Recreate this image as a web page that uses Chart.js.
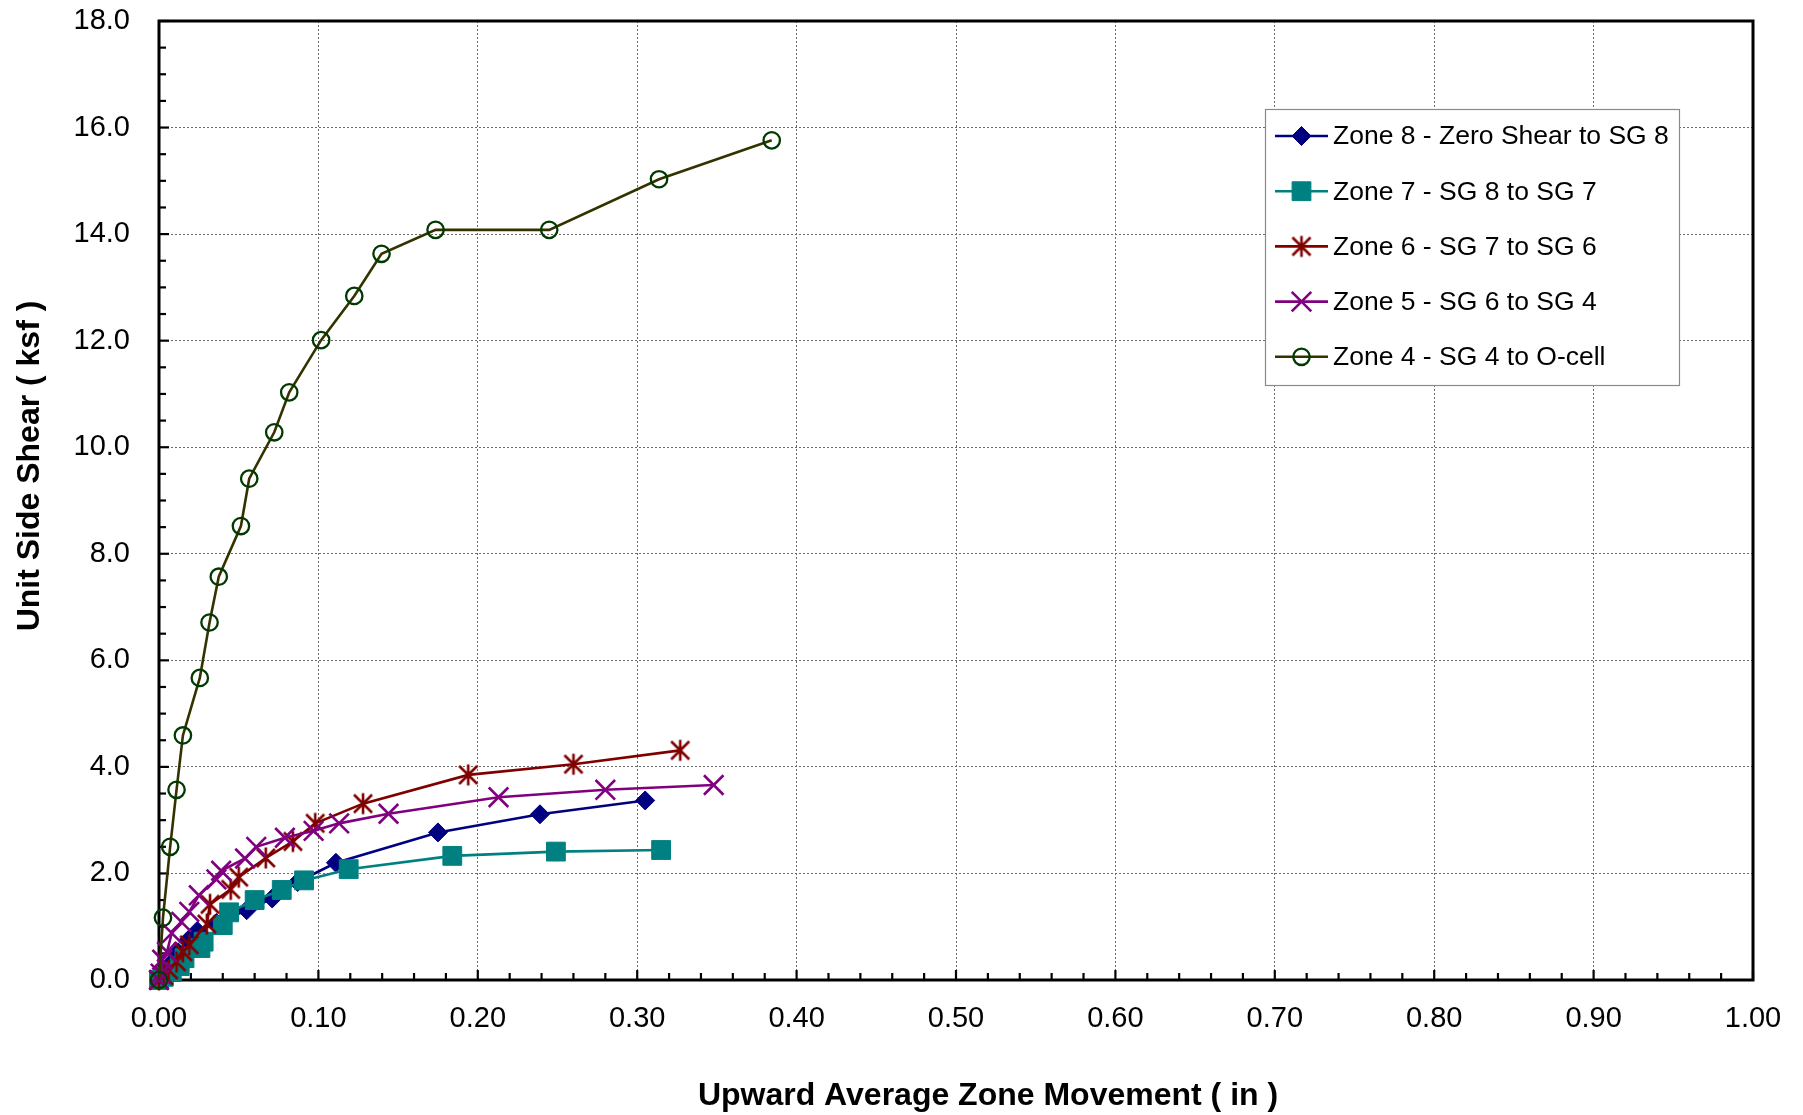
<!DOCTYPE html>
<html>
<head>
<meta charset="utf-8">
<title>Unit Side Shear vs Upward Average Zone Movement</title>
<script src="https://cdn.jsdelivr.net/npm/chart.js@4/dist/chart.umd.min.js"></script>
<style>
  html, body { margin: 0; padding: 0; background: #ffffff; }
  canvas { display: block; }
</style>
</head>
<body>
<canvas id="chart" width="1803" height="1115"></canvas>
<script>
const FONT = "'Liberation Sans', Arial, Helvetica, sans-serif";

// Series names (legend order)
const seriesNames = [
  'Zone 8 - Zero Shear to SG 8',
  'Zone 7 - SG 8 to SG 7',
  'Zone 6 - SG 7 to SG 6',
  'Zone 5 - SG 6 to SG 4',
  'Zone 4 - SG 4 to O-cell'
];

// Upward average zone movement (in) and unit side shear (ksf) per zone
const zone8X = [0, 0.003, 0.007, 0.012, 0.018, 0.024, 0.036, 0.055, 0.071, 0.087, 0.111, 0.175, 0.239, 0.305];
const zone8Y = [0, 0.12, 0.30, 0.52, 0.74, 0.92, 1.07, 1.31, 1.53, 1.84, 2.20, 2.77, 3.11, 3.37];

const zone7X = [0, 0.003, 0.008, 0.013, 0.016, 0.026, 0.028, 0.040, 0.044, 0.060, 0.077, 0.091, 0.119, 0.184, 0.249, 0.315];
const zone7Y = [0, 0.06, 0.15, 0.26, 0.41, 0.60, 0.72, 1.03, 1.27, 1.50, 1.69, 1.87, 2.08, 2.33, 2.41, 2.44];

const zone6X = [0, 0.003, 0.006, 0.011, 0.015, 0.019, 0.030, 0.032, 0.045, 0.050, 0.067, 0.084, 0.098, 0.128, 0.194, 0.260, 0.327];
const zone6Y = [0, 0.08, 0.19, 0.34, 0.53, 0.66, 1.05, 1.42, 1.70, 1.93, 2.29, 2.60, 2.94, 3.31, 3.85, 4.05, 4.31];

const zone5X = [0, 0.001, 0.002, 0.005, 0.008, 0.014, 0.019, 0.025, 0.036, 0.039, 0.054, 0.061, 0.079, 0.097, 0.113, 0.144, 0.213, 0.280, 0.348];
const zone5Y = [0, 0.12, 0.38, 0.53, 0.88, 1.09, 1.28, 1.59, 1.89, 2.05, 2.28, 2.50, 2.67, 2.80, 2.94, 3.12, 3.43, 3.57, 3.66];

const zone4X = [0, 0.0025, 0.007, 0.011, 0.015, 0.0256, 0.0317, 0.0375, 0.0514, 0.0566, 0.0723, 0.0817, 0.1017, 0.1225, 0.1396, 0.1735, 0.2448, 0.3137, 0.3844];
const zone4Y = [0, 1.17, 2.50, 3.57, 4.59, 5.67, 6.71, 7.57, 8.52, 9.41, 10.28, 11.03, 12.01, 12.84, 13.63, 14.08, 14.08, 15.03, 15.76];

// Axis tick labels
const xTickLabels = ['0.00', '0.10', '0.20', '0.30', '0.40', '0.50', '0.60', '0.70', '0.80', '0.90', '1.00'];
const yTickLabels = ['0.0', '2.0', '4.0', '6.0', '8.0', '10.0', '12.0', '14.0', '16.0', '18.0'];

const xTitle = 'Upward Average Zone Movement ( in )';
const yTitle = 'Unit Side Shear ( ksf )';

function toPoints(xs, ys) {
  return xs.map((x, i) => ({ x: x, y: ys[i] }));
}

// Six-spoke asterisk marker (vertical bar plus an X)
function asteriskMarker(color, r, lw) {
  const size = Math.ceil(2 * r + lw + 2);
  const c = document.createElement('canvas');
  c.width = size; c.height = size;
  const g = c.getContext('2d');
  const m = size / 2;
  const d = r * 0.86;
  g.strokeStyle = color;
  g.lineWidth = lw;
  g.lineCap = 'butt';
  g.beginPath();
  g.moveTo(m, m - r); g.lineTo(m, m + r);
  g.moveTo(m - d, m - d); g.lineTo(m + d, m + d);
  g.moveTo(m - d, m + d); g.lineTo(m + d, m - d);
  g.stroke();
  return c;
}

const starMarker = asteriskMarker('#800000', 10.5, 2.6);

const datasets = [
  {
    label: seriesNames[0],
    data: toPoints(zone8X, zone8Y),
    borderColor: '#000080', backgroundColor: '#000080',
    pointStyle: 'rectRot', pointRadius: 9.5,
    pointBackgroundColor: '#000080', pointBorderColor: '#000080', pointBorderWidth: 1,
    order: 5
  },
  {
    label: seriesNames[1],
    data: toPoints(zone7X, zone7Y),
    borderColor: '#008080', backgroundColor: '#008080',
    pointStyle: 'rect', pointRadius: 13.3,
    pointBackgroundColor: '#008080', pointBorderColor: '#008080', pointBorderWidth: 1,
    order: 4
  },
  {
    label: seriesNames[2],
    data: toPoints(zone6X, zone6Y),
    borderColor: '#800000', backgroundColor: '#800000',
    pointStyle: starMarker, pointRadius: 11,
    pointBackgroundColor: '#800000', pointBorderColor: '#800000', pointBorderWidth: 2.6,
    order: 3
  },
  {
    label: seriesNames[3],
    data: toPoints(zone5X, zone5Y),
    borderColor: '#800080', backgroundColor: '#800080',
    pointStyle: 'crossRot', pointRadius: 13.8,
    pointBackgroundColor: '#800080', pointBorderColor: '#800080', pointBorderWidth: 2.6,
    order: 2
  },
  {
    label: seriesNames[4],
    data: toPoints(zone4X, zone4Y),
    borderColor: '#333300', backgroundColor: 'rgba(0,0,0,0)',
    pointStyle: 'circle', pointRadius: 8.2,
    pointBackgroundColor: 'rgba(0,0,0,0)', pointBorderColor: '#003a00', pointBorderWidth: 2.3,
    order: 1
  }
];
datasets.forEach(ds => {
  ds.showLine = true;
  ds.borderWidth = 2.6;
  ds.tension = 0;
  ds.fill = false;
  ds.clip = false;
  ds.pointHoverRadius = ds.pointRadius;
});

// Plot frame with inward tick marks
const frameAndTicks = {
  id: 'frameAndTicks',
  beforeDatasetsDraw(chart) {
    const { ctx, chartArea: a, scales } = chart;
    const xs = scales.x, ys = scales.y;
    ctx.save();
    ctx.strokeStyle = '#000000';
    ctx.lineWidth = 2.2;
    const xMinor = 0.02, xPerMajor = 5;
    const xCount = Math.round((xs.max - xs.min) / xMinor);
    for (let i = 0; i <= xCount; i++) {
      const px = xs.getPixelForValue(xs.min + i * xMinor);
      const len = (i % xPerMajor === 0) ? 10 : 7;
      ctx.beginPath();
      ctx.moveTo(px, a.bottom);
      ctx.lineTo(px, a.bottom - len);
      ctx.stroke();
    }
    const yMinor = 0.5, yPerMajor = 4;
    const yCount = Math.round((ys.max - ys.min) / yMinor);
    for (let i = 0; i <= yCount; i++) {
      const py = ys.getPixelForValue(ys.min + i * yMinor);
      const len = (i % yPerMajor === 0) ? 10 : 7;
      ctx.beginPath();
      ctx.moveTo(a.left, py);
      ctx.lineTo(a.left + len, py);
      ctx.stroke();
    }
    ctx.lineWidth = 3;
    ctx.strokeRect(a.left, a.top, a.right - a.left, a.bottom - a.top);
    ctx.restore();
  }
};

// Axis titles, centred on the whole chart region
const axisTitles = {
  id: 'axisTitles',
  afterDraw(chart) {
    const ctx = chart.ctx;
    ctx.save();
    ctx.fillStyle = '#000000';
    ctx.font = 'bold 32px ' + FONT;
    ctx.textAlign = 'center';
    ctx.textBaseline = 'middle';
    ctx.fillText(xTitle, 988, 1096);
    ctx.translate(30, 466);
    ctx.rotate(-Math.PI / 2);
    ctx.fillText(yTitle, 0, 0);
    ctx.restore();
  }
};

// Boxed legend inside the plot area
const boxedLegend = {
  id: 'boxedLegend',
  afterDraw(chart) {
    const ctx = chart.ctx;
    const box = { left: 1265, top: 109, width: 414, height: 276 };
    const rowStart = 136, rowGap = 55.2;
    const lineFrom = 1275, lineTo = 1328, textX = 1333;
    ctx.save();
    ctx.fillStyle = '#ffffff';
    ctx.fillRect(box.left, box.top, box.width, box.height);
    ctx.strokeStyle = '#8a8a8a';
    ctx.lineWidth = 1.2;
    ctx.strokeRect(box.left + 0.5, box.top + 0.5, box.width, box.height);
    chart.data.datasets.forEach((ds, i) => {
      const yc = rowStart + i * rowGap;
      ctx.strokeStyle = ds.borderColor;
      ctx.lineWidth = ds.borderWidth;
      ctx.setLineDash([]);
      ctx.beginPath();
      ctx.moveTo(lineFrom, yc);
      ctx.lineTo(lineTo, yc);
      ctx.stroke();
      const mx = (lineFrom + lineTo) / 2;
      ctx.fillStyle = ds.pointBackgroundColor;
      ctx.strokeStyle = ds.pointBorderColor;
      ctx.lineWidth = ds.pointBorderWidth;
      if (Chart.helpers && Chart.helpers.drawPoint) {
        Chart.helpers.drawPoint(ctx, {
          pointStyle: ds.pointStyle, radius: ds.pointRadius,
          borderWidth: ds.pointBorderWidth, rotation: 0
        }, mx, yc);
      }
      ctx.fillStyle = '#000000';
      ctx.font = '26.5px ' + FONT;
      ctx.textAlign = 'left';
      ctx.textBaseline = 'middle';
      ctx.fillText(ds.label, textX, yc + 1);
    });
    ctx.restore();
  }
};

new Chart(document.getElementById('chart'), {
  type: 'scatter',
  data: { datasets: datasets },
  options: {
    responsive: false,
    animation: false,
    devicePixelRatio: 1,
    layout: { padding: { left: 0, top: 21, right: 50, bottom: 0 } },
    plugins: {
      legend: { display: false },
      tooltip: { enabled: false },
      title: { display: false }
    },
    scales: {
      x: {
        type: 'linear',
        min: 0, max: 1,
        afterFit(scale) {
          scale.height = 135;
          scale.paddingLeft = 0;
          scale.paddingRight = 0;
        },
        ticks: {
          stepSize: 0.1,
          padding: 22,
          color: '#000000',
          font: { family: FONT, size: 29 },
          maxRotation: 0,
          callback: (v, i) => xTickLabels[i]
        },
        grid: { color: '#6a6a6a', lineWidth: 1, drawTicks: false },
        border: { display: false, dash: [2, 2] }
      },
      y: {
        type: 'linear',
        min: 0, max: 18,
        afterFit(scale) {
          scale.width = 159;
          scale.paddingTop = 0;
          scale.paddingBottom = 0;
        },
        ticks: {
          stepSize: 2,
          padding: 29,
          color: '#000000',
          font: { family: FONT, size: 29 },
          callback: (v, i) => yTickLabels[i]
        },
        grid: { color: '#6a6a6a', lineWidth: 1, drawTicks: false },
        border: { display: false, dash: [2, 2] }
      }
    }
  },
  plugins: [frameAndTicks, axisTitles, boxedLegend]
});
</script>
</body>
</html>
